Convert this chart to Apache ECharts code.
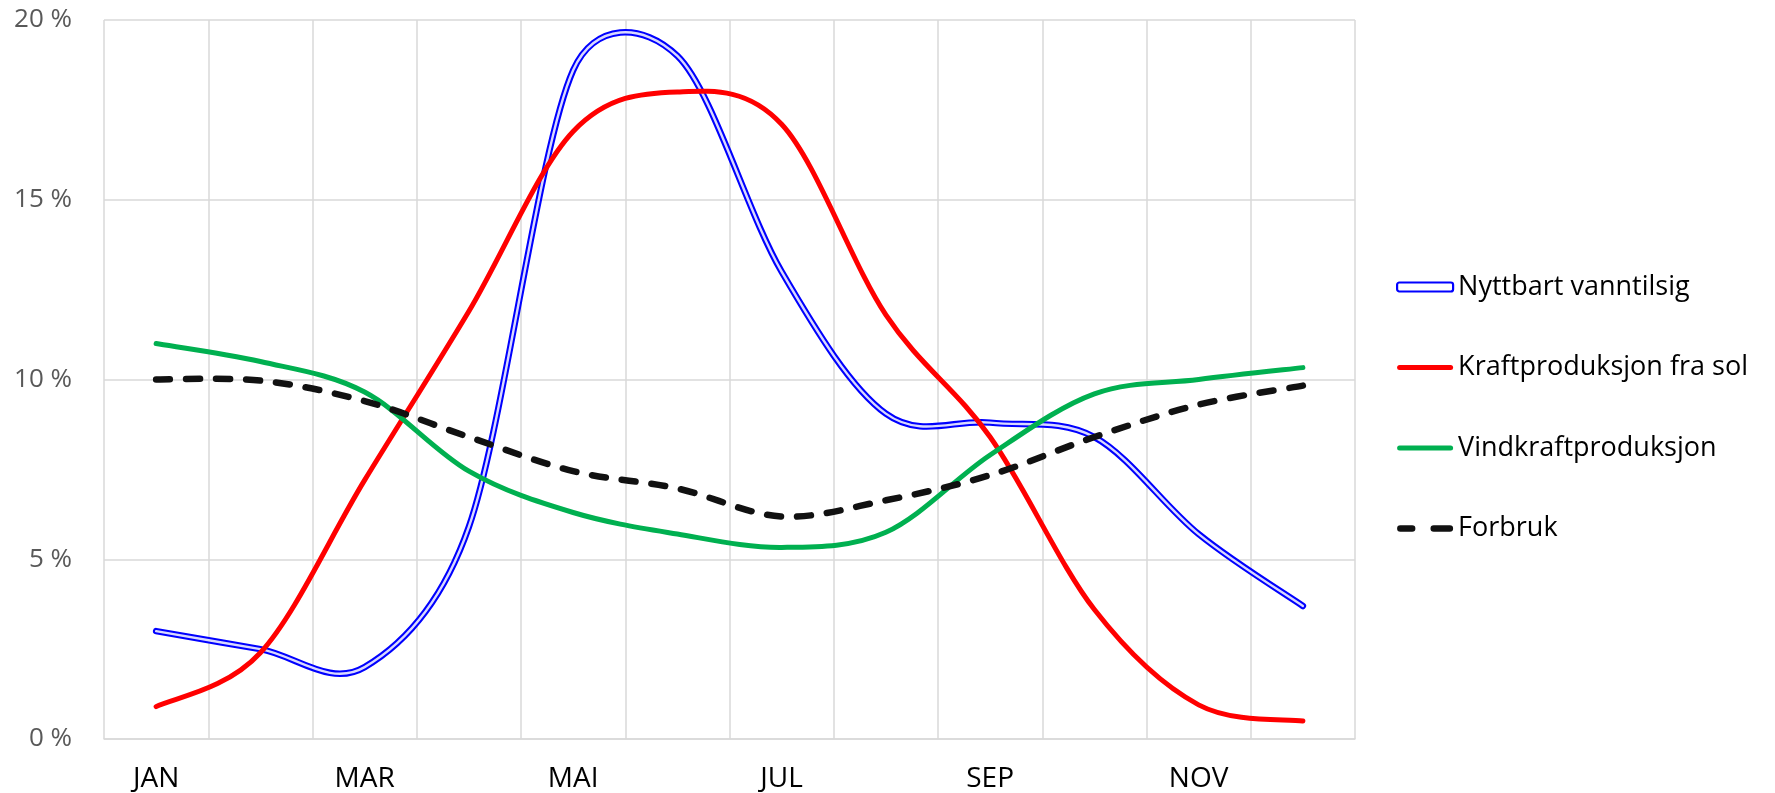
<!DOCTYPE html>
<html><head><meta charset="utf-8">
<script src="https://cdn.jsdelivr.net/npm/echarts@6/dist/echarts.min.js"></script>
<style>html,body{margin:0;padding:0;background:#fff}#c{width:1775px;height:793px}</style>
</head><body><div id="c"></div>
<script>
const months = ['JAN','FEB','MAR','APR','MAI','JUN','JUL','AUG','SEP','OKT','NOV','DES'];
const yTicks = [0, 5, 10, 15, 20];
const vanntilsig = [3.0, 2.5, 2.0, 5.9, 18.6, 19.0, 13.0, 9.05, 8.8, 8.4, 5.7, 3.7];
const sol = [0.9, 2.4, 7.2, 11.9, 16.9, 18.0, 17.1, 11.8, 8.4, 3.6, 0.95, 0.5];
const vind = [11.0, 10.5, 9.65, 7.45, 6.3, 5.7, 5.33, 5.75, 7.9, 9.6, 10.0, 10.33];
const forbruk = [10.0, 9.97, 9.4, 8.4, 7.45, 6.97, 6.19, 6.64, 7.34, 8.4, 9.3, 9.83];
const names = ['Nyttbart vanntilsig', 'Kraftproduksjon fra sol', 'Vindkraftproduksjon', 'Forbruk'];

const FONT = 'Open Sans';

// Excel-style smoothed line: Bezier segments through the data points,
// tangent length 1/6 of neighbour chord, capped at half the segment length.
function smoothPath(api, values) {
  const pts = values.map((v, i) => api.coord([i, v]));
  let d = 'M' + pts[0][0] + ',' + pts[0][1];
  for (let i = 0; i < pts.length - 1; i++) {
    const A = pts[i], B = pts[i + 1];
    const P = pts[i - 1] || A, N = pts[i + 2] || B;
    const seg = Math.hypot(B[0] - A[0], B[1] - A[1]);
    const t1 = [B[0] - P[0], B[1] - P[1]], l1 = Math.hypot(t1[0], t1[1]);
    const t2 = [N[0] - A[0], N[1] - A[1]], l2 = Math.hypot(t2[0], t2[1]);
    const f1 = (l1 / 6 > seg / 2) ? (seg / 2) / l1 : 1 / 6;
    const f2 = (l2 / 6 > seg / 2) ? (seg / 2) / l2 : 1 / 6;
    const c1 = [A[0] + t1[0] * f1, A[1] + t1[1] * f1];
    const c2 = [B[0] - t2[0] * f2, B[1] - t2[1] * f2];
    d += ' C' + c1[0] + ',' + c1[1] + ' ' + c2[0] + ',' + c2[1] + ' ' + B[0] + ',' + B[1];
  }
  return d;
}

function curveSeries(name, values, color, strokes) {
  return {
    name: name, type: 'custom', coordinateSystem: 'cartesian2d',
    data: values.map((v, i) => [i, v]), encode: {x: 0, y: 1},
    itemStyle: {color: color},
    renderItem: function (params, api) {
      if (params.dataIndex !== 0) return null;
      const d = smoothPath(api, values);
      return {
        type: 'group',
        children: strokes.map(s => ({
          type: 'path', shape: {pathData: d},
          style: Object.assign({fill: 'none', lineCap: 'round', lineJoin: 'round'}, s)
        }))
      };
    }
  };
}

const solidIcon = 'path://M2.5,0L53.5,0A2.5,2.5,0,0,1,53.5,5L2.5,5A2.5,2.5,0,0,1,2.5,0Z';
const dashIcon = 'path://M3,0L14,0A3,3,0,0,1,14,6L3,6A3,3,0,0,1,3,0ZM34,0L49,0A3,3,0,0,1,49,6L34,6A3,3,0,0,1,34,0Z';

const chart = echarts.init(document.getElementById('c'), null, {renderer: 'canvas'});
chart.setOption({
  animation: false,
  grid: {left: 104, right: 420, top: 20, bottom: 54, containLabel: false},
  legend: {
    orient: 'vertical', left: 1396, top: 272, padding: 0,
    itemWidth: 56, itemHeight: 9, itemGap: 50.5,
    textStyle: {fontFamily: FONT, fontSize: 27, color: '#000', lineHeight: 30},
    data: [
      {name: names[0], icon: 'roundRect', itemStyle: {color: '#ffffff', borderColor: '#0000ff', borderWidth: 2.2}},
      {name: names[1], icon: solidIcon},
      {name: names[2], icon: solidIcon},
      {name: names[3], icon: dashIcon}
    ]
  },
  xAxis: {
    type: 'category', data: months, boundaryGap: true,
    axisLine: {show: true, lineStyle: {color: '#d9d9d9', width: 1.5}},
    axisTick: {show: false},
    axisLabel: {interval: 1, margin: 26, fontFamily: FONT, fontSize: 28, color: '#000'},
    splitLine: {show: true, interval: 0, lineStyle: {color: '#d9d9d9', width: 1.5}}
  },
  yAxis: {
    type: 'value', min: yTicks[0], max: yTicks[yTicks.length - 1], interval: 5,
    axisLine: {show: false}, axisTick: {show: false},
    axisLabel: {formatter: '{value} %', margin: 32, fontFamily: FONT, fontSize: 26, color: '#595959'},
    splitLine: {show: true, lineStyle: {color: '#d9d9d9', width: 1.5}}
  },
  series: [
    curveSeries(names[0], vanntilsig, '#0000ff', [
      {stroke: '#0000ff', lineWidth: 6.5},
      {stroke: '#ffffff', lineWidth: 2.4, opacity: 0.85}
    ]),
    curveSeries(names[1], sol, '#ff0000', [{stroke: '#ff0000', lineWidth: 5}]),
    curveSeries(names[2], vind, '#00b050', [{stroke: '#00b050', lineWidth: 5}]),
    curveSeries(names[3], forbruk, '#111111', [{stroke: '#111111', lineWidth: 6.5, lineDash: [14, 16]}])
  ]
});
</script></body></html>
